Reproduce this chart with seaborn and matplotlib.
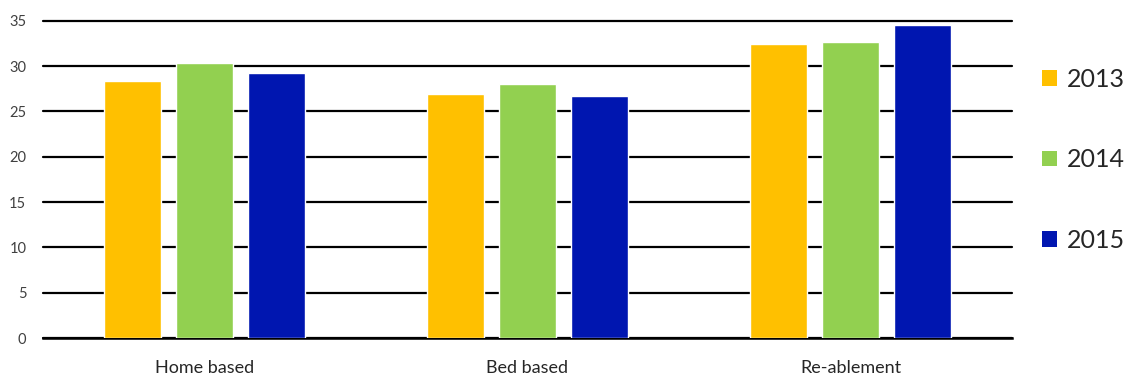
import matplotlib
matplotlib.use("Agg")
import matplotlib.pyplot as plt
import seaborn as sns
import pandas as pd
from matplotlib.patches import Patch

categories = ["Home based", "Bed based", "Re-ablement"]
years = ["2013", "2014", "2015"]
values_2013 = [28.4, 26.95, 32.4]
values_2014 = [30.35, 27.97, 32.7]
values_2015 = [29.25, 26.7, 34.55]
colors = ["#FFC000", "#92D050", "#0016B0"]
yticks = [0, 5, 10, 15, 20, 25, 30, 35]

rows = []
for yr, vals in zip(years, [values_2013, values_2014, values_2015]):
    for c, v in zip(categories, vals):
        rows.append({"category": c, "year": yr, "value": v})
df = pd.DataFrame(rows)

sns.set_style("white")
plt.rcParams["font.family"] = ["Lato", "DejaVu Sans"]

fig = plt.figure(figsize=(11.3, 3.77), dpi=100)
ax = fig.add_axes([0.038, 0.1034, 0.8576, 0.8416])

sns.barplot(data=df, x="category", y="value", hue="year", order=categories,
            hue_order=years, palette=colors, width=0.669, gap=0.21,
            saturation=1, ax=ax, legend=False, zorder=3)

ax.set_ylim(0, 35)
ax.set_xlim(-0.5, 2.5)
ax.set_yticks(yticks)
ax.set_yticklabels([str(t) for t in yticks], fontsize=10.5, color="#404040")
ax.yaxis.grid(True, color="black", linewidth=1.6, zorder=0)
for gl in ax.get_ygridlines():
    gl.set_clip_on(False)
ax.set_axisbelow(True)
ax.tick_params(axis="y", length=0, pad=12)
ax.tick_params(axis="x", which="major", length=0, labelsize=13, pad=16)
ax.set_xticks([-0.5, 0.5, 1.5, 2.5], minor=True)
ax.tick_params(axis="x", which="minor", length=7, width=1.5, direction="out", color="black")
ax.set_xlabel("")
ax.set_ylabel("")
for s in ["left", "right", "top"]:
    ax.spines[s].set_visible(False)
ax.spines["bottom"].set_color("black")
ax.spines["bottom"].set_linewidth(1.8)

handles = [Patch(facecolor=c, edgecolor="none", label=y) for c, y in zip(colors, years)]
fig.legend(handles=handles, loc="center left", bbox_to_anchor=(0.922, 0.576),
           frameon=False, fontsize=18, handlelength=0.6, handleheight=0.6,
           handletextpad=0.4, labelspacing=2.3, borderpad=0, borderaxespad=0)

fig.savefig("out.png", dpi=100)
